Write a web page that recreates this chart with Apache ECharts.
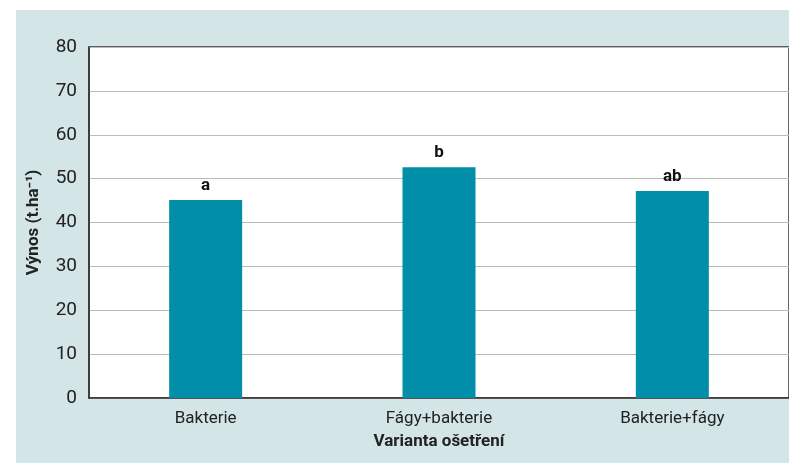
<!DOCTYPE html>
<html>
<head>
<meta charset="utf-8">
<script src="https://cdn.jsdelivr.net/npm/echarts@6/dist/echarts.min.js"></script>
<style>
  html, body { margin: 0; padding: 0; background: #fff; }
  #chart { width: 789px; height: 463px; }
</style>
</head>
<body>
<div id="chart"></div>
<script>
var kategorie = ['Bakterie', 'Fágy+bakterie', 'Bakterie+fágy'];
var vynos = [45.1, 52.6, 47.2];
var pismena = ['a', 'b', 'ab'];

var font = 'Roboto, sans-serif';

var chart = echarts.init(document.getElementById('chart'));
var option = {
    animation: false,
    graphic: [{
        type: 'rect',
        z: -10,
        shape: { x: 16, y: 10, width: 773, height: 453 },
        style: { fill: '#d3e5e6' }
    }],
    grid: {
        left: 89, top: 47, right: -2, bottom: 65,
        show: true,
        backgroundColor: '#fff',
        borderColor: '#333',
        borderWidth: 1.5
    },
    xAxis: {
        type: 'category',
        data: kategorie,
        name: 'Varianta ošetření',
        nameLocation: 'middle',
        nameGap: 35,
        nameTextStyle: { fontFamily: font, fontWeight: 'bold', fontSize: 17, color: '#222' },
        axisTick: { show: false },
        axisLine: { lineStyle: { color: '#333', width: 1.5 } },
        axisLabel: { fontFamily: font, fontSize: 17, color: '#222', margin: 12 }
    },
    yAxis: {
        type: 'value',
        min: 0, max: 80, interval: 10,
        name: 'Výnos (t.ha⁻¹)',
        nameLocation: 'middle',
        nameGap: 47,
        nameTextStyle: { fontFamily: font, fontWeight: 'bold', fontSize: 17, color: '#222' },
        axisLine: { show: true, lineStyle: { color: '#333', width: 1.5 } },
        axisTick: { show: false },
        axisLabel: { fontFamily: font, fontSize: 19, color: '#222', margin: 12 },
        splitLine: { lineStyle: { color: '#bbb', width: 1 } }
    },
    series: [{
        type: 'bar',
        data: vynos,
        barWidth: 73,
        itemStyle: { color: '#008ea8' },
        label: {
            show: true,
            position: 'top',
            distance: 6,
            fontFamily: font,
            fontWeight: 'bold',
            fontSize: 17,
            color: '#111',
            formatter: function (p) { return pismena[p.dataIndex]; }
        }
    }]
};
chart.setOption(option);
</script>
</body>
</html>
